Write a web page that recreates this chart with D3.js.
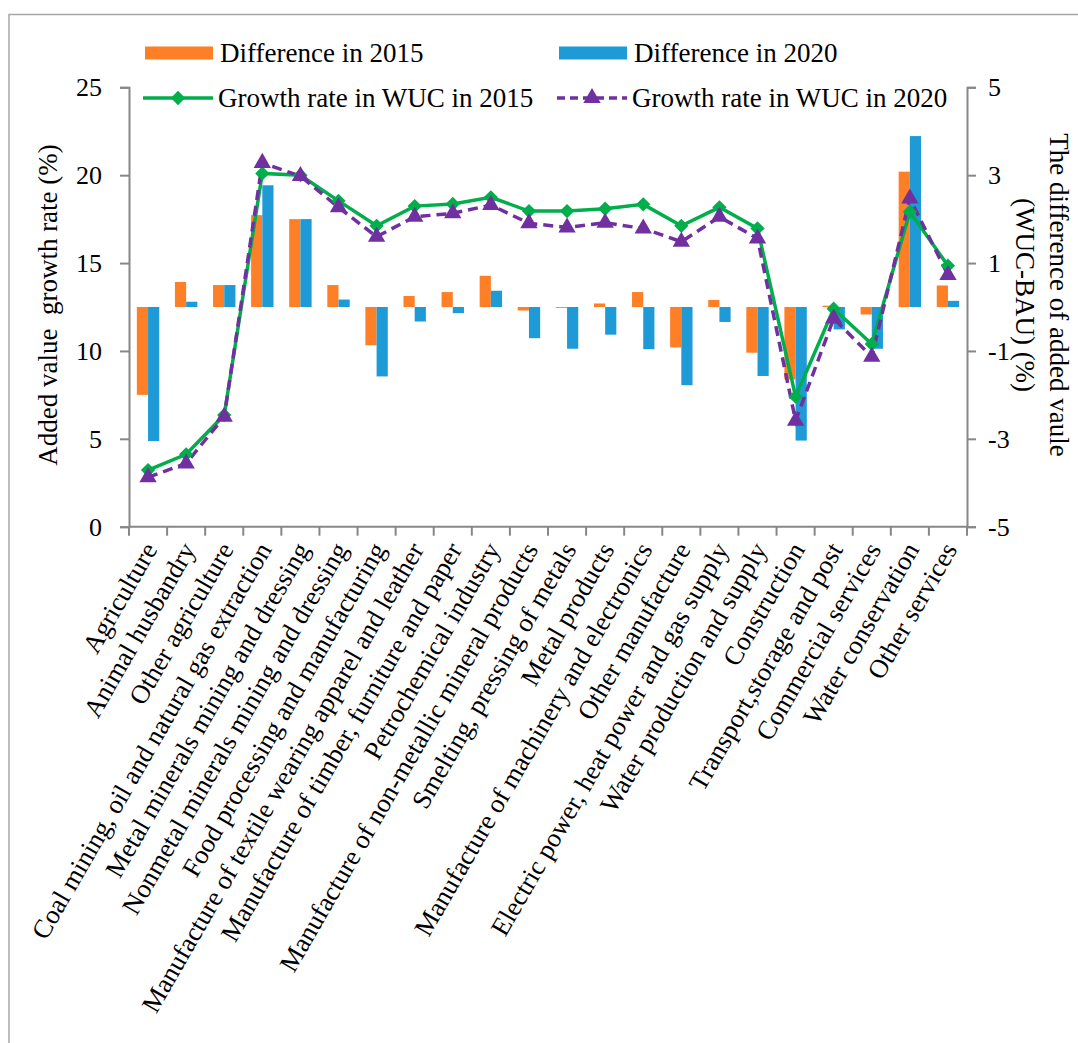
<!DOCTYPE html>
<html>
<head>
<meta charset="utf-8">
<script src="https://cdn.jsdelivr.net/npm/d3@7"></script>
<style>
  html, body { margin: 0; padding: 0; background: #fff; }
  svg { display: block; font-family: "Liberation Serif", "Times New Roman", serif; }
</style>
</head>
<body>
<svg id="chart" width="1078" height="1043"></svg>
<script>
// Sectors along the x axis
const categories = [
  "Agriculture", "Animal husbandry", "Other agriculture",
  "Coal mining, oil and natural gas extraction",
  "Metal minerals mining and dressing",
  "Nonmetal minerals mining and dressing",
  "Food processing and manufacturing",
  "Manufacture of textile wearing apparel and leather",
  "Manufacture of timber, furniture and paper",
  "Petrochemical industry",
  "Manufacture of non-metallic mineral products",
  "Smelting, pressing of metals",
  "Metal products",
  "Manufacture of machinery and electronics",
  "Other manufacture",
  "Electric power, heat power and gas supply",
  "Water production and supply",
  "Construction",
  "Transport,storage and post",
  "Commercial services",
  "Water conservation",
  "Other services"
];

// Difference of added value (WUC-BAU), %, right axis
const diff2015 = [-2.0, 0.57, 0.5, 2.09, 2.0, 0.5, -0.87, 0.25, 0.34, 0.71, -0.08,
                  -0.02, 0.08, 0.34, -0.92, 0.16, -1.04, -1.65, 0.03, -0.17, 3.08, 0.49];
const diff2020 = [-3.05, 0.12, 0.5, 2.77, 2.0, 0.17, -1.58, -0.33, -0.14, 0.37, -0.71,
                  -0.95, -0.63, -0.96, -1.78, -0.34, -1.57, -3.04, -0.51, -0.95, 3.89, 0.14];

// Added value growth rate in the WUC scenario, %, left axis
const growth2015 = [3.22, 4.12, 6.35, 20.1, 20.0, 18.54, 17.12, 18.24, 18.36, 18.74, 17.96,
                    17.96, 18.09, 18.34, 17.12, 18.17, 16.97, 7.4, 12.4, 10.39, 17.92, 14.85];
const growth2020 = [2.81, 3.6, 6.26, 20.7, 19.95, 18.17, 16.5, 17.63, 17.83, 18.3, 17.26,
                    17.03, 17.29, 16.97, 16.21, 17.63, 16.4, 6.03, 11.85, 9.67, 18.68, 14.32];

const leftTicks = [0, 5, 10, 15, 20, 25];
const rightTicks = [-5, -3, -1, 1, 3, 5];

const seriesNames = ["Difference in 2015", "Difference in 2020",
                     "Growth rate in WUC in 2015", "Growth rate in WUC in 2020"];

const C_ORANGE = "#FF7F27", C_BLUE = "#1E9BD7", C_GREEN = "#00AF4B", C_PURPLE = "#7030A0";
const AXIS = "#878787";
const FONT = 26.5;

const svg = d3.select("#chart");

// outer chart frame
svg.append("rect").attr("x", 9).attr("y", 14.5).attr("width", 1200).attr("height", 1200)
  .attr("fill", "none").attr("stroke", "#a6a6a6").attr("stroke-width", 1.5);

const plot = { left: 129, right: 967, top: 87.3, bottom: 526.7 };

const x = d3.scaleBand().domain(categories).range([plot.left, plot.right]).padding(0);
const yL = d3.scaleLinear().domain([0, 25]).range([plot.bottom, plot.top]);
const yR = d3.scaleLinear().domain([-5, 5]).range([plot.bottom, plot.top]);

const barW = 11.2;
const xSub = d3.scaleBand().domain(["2015", "2020"])
  .range([x.bandwidth() / 2 - barW, x.bandwidth() / 2 + barW]).padding(0);

// bars
const barData = categories.flatMap((c, i) => [
  { c, k: "2015", v: diff2015[i], color: C_ORANGE },
  { c, k: "2020", v: diff2020[i], color: C_BLUE }
]);
svg.append("g").selectAll("rect").data(barData).join("rect")
  .attr("x", d => x(d.c) + xSub(d.k))
  .attr("width", xSub.bandwidth())
  .attr("y", d => Math.min(yR(d.v), yR(0)))
  .attr("height", d => Math.abs(yR(d.v) - yR(0)))
  .attr("fill", d => d.color);

// axes
function styleAxis(g) {
  g.selectAll(".domain").attr("stroke", AXIS).attr("stroke-width", 2);
  g.selectAll(".tick line").attr("stroke", AXIS).attr("stroke-width", 2);
  g.selectAll("text").attr("font-size", 26).attr("fill", "#000")
    .attr("font-family", "Liberation Serif, Times New Roman, serif");
}

const plain = d => String(d);

const gL = svg.append("g").attr("transform", `translate(${plot.left},0)`)
  .call(d3.axisLeft(yL).tickValues(leftTicks).tickFormat(plain)
    .tickSize(9).tickPadding(18).tickSizeOuter(9));
styleAxis(gL);

const gR = svg.append("g").attr("transform", `translate(${plot.right},0)`)
  .call(d3.axisRight(yR).tickValues(rightTicks).tickFormat(plain)
    .tickSize(9).tickPadding(12).tickSizeOuter(9));
styleAxis(gR);

// category axis: ticks at band boundaries
const gX = svg.append("g").attr("transform", `translate(0,${plot.bottom})`);
gX.append("line").attr("x1", plot.left).attr("x2", plot.right)
  .attr("stroke", AXIS).attr("stroke-width", 2);
const bounds = categories.map(c => x(c)).concat([plot.right]);
gX.selectAll("line.tk").data(bounds).join("line").attr("class", "tk")
  .attr("x1", d => d).attr("x2", d => d).attr("y1", 0).attr("y2", 9)
  .attr("stroke", AXIS).attr("stroke-width", 2);
gX.selectAll("text").data(categories).join("text")
  .attr("transform", d => `translate(${x(d) + x.bandwidth() / 2 + 2},${18}) rotate(-60)`)
  .attr("text-anchor", "end").attr("dy", "0.35em")
  .attr("font-size", FONT).text(d => d);

// lines
const lineL = d3.line().x((d, i) => x(categories[i]) + x.bandwidth() / 2).y(d => yL(d));
svg.append("path").datum(growth2015).attr("d", lineL)
  .attr("fill", "none").attr("stroke", C_GREEN).attr("stroke-width", 3.5);
svg.append("path").datum(growth2020).attr("d", lineL)
  .attr("fill", "none").attr("stroke", C_PURPLE).attr("stroke-width", 3.5)
  .attr("stroke-dasharray", "10,6");

const diamond = d3.symbol().type(d3.symbolDiamond2).size(130);
const triangle = d3.symbol().type(d3.symbolTriangle).size(130);
svg.append("g").selectAll("path").data(growth2015).join("path")
  .attr("transform", (d, i) => `translate(${x(categories[i]) + x.bandwidth() / 2},${yL(d)})`)
  .attr("d", diamond).attr("fill", C_GREEN);
svg.append("g").selectAll("path").data(growth2020).join("path")
  .attr("transform", (d, i) => `translate(${x(categories[i]) + x.bandwidth() / 2},${yL(d)})`)
  .attr("d", triangle).attr("fill", C_PURPLE);

// axis titles
svg.append("text")
  .attr("transform", `translate(57,305) rotate(-90)`)
  .attr("text-anchor", "middle").attr("font-size", 27).style("white-space", "pre")
  .text("Added value  growth rate (%)");
const rt = svg.append("text")
  .attr("transform", `translate(1050,295) rotate(90)`)
  .attr("text-anchor", "middle").attr("font-size", 27);
rt.append("tspan").attr("x", 0).attr("dy", 0).text("The difference of added vaule");
rt.append("tspan").attr("x", 0).attr("dy", "1.25em").text("(WUC-BAU) (%)");

// legend
const legend = svg.append("g");
const leg = [
  { name: seriesNames[0], type: "bar", color: C_ORANGE, x: 145, y: 53 },
  { name: seriesNames[1], type: "bar", color: C_BLUE, x: 559, y: 53 },
  { name: seriesNames[2], type: "line", color: C_GREEN, x: 143, y: 98 },
  { name: seriesNames[3], type: "dash", color: C_PURPLE, x: 557, y: 98 }
];
leg.forEach(l => {
  const g = legend.append("g").attr("transform", `translate(${l.x},${l.y})`);
  if (l.type === "bar") {
    g.append("rect").attr("x", 0).attr("y", -6.5).attr("width", 68).attr("height", 13).attr("fill", l.color);
  } else {
    g.append("line").attr("x1", 0).attr("x2", 70).attr("stroke", l.color).attr("stroke-width", 3.5)
      .attr("stroke-dasharray", l.type === "dash" ? "8,5" : null);
    g.append("path").attr("transform", "translate(35,0)")
      .attr("d", l.type === "dash" ? triangle : diamond).attr("fill", l.color);
  }
  g.append("text").attr("x", 75).attr("dy", "0.33em").attr("font-size", 27).text(l.name);
});
</script>
</body>
</html>
